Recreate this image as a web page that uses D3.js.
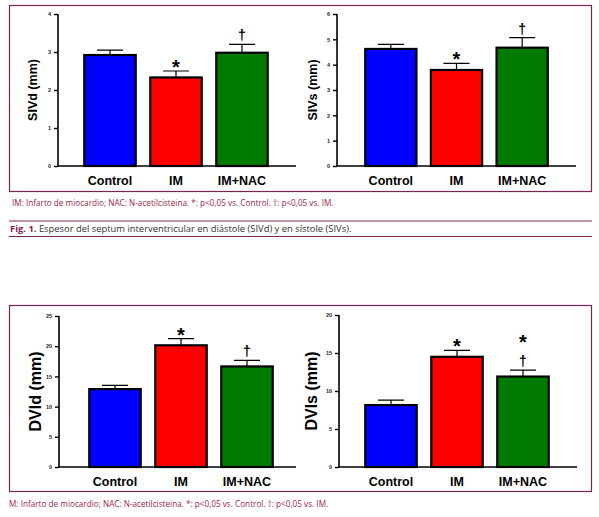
<!DOCTYPE html>
<html lang="en">
<head>
<meta charset="UTF-8">
<title>SIV / DVI</title>
<style>
  body { margin: 0; background: #fff; }
  svg text { font-family: "Liberation Sans", Arial, sans-serif; }
</style>
</head>
<body>
<div class="canvas"></div>
<script src="https://cdnjs.cloudflare.com/ajax/libs/d3/7.8.5/d3.min.js"></script>
<script>
const groups = ["Control", "IM", "IM+NAC"];

const sivdMean = [2.92, 2.33, 2.98];
const sivdErr = [0.13, 0.17, 0.22];
const sivdMarks = [[], ["*"], ["†"]];

const sivsMean = [4.62, 3.79, 4.67];
const sivsErr = [0.18, 0.26, 0.40];
const sivsMarks = [[], ["*"], ["†"]];

const dvidMean = [12.9, 20.15, 16.65];
const dvidErr = [0.6, 1.1, 1.0];
const dvidMarks = [[], ["*"], ["†"]];

const dvisMean = [8.15, 14.5, 11.9];
const dvisErr = [0.65, 0.85, 0.85];
const dvisMarks = [[], ["*"], ["*", "†"]];

const yTicksSivd = [0, 1, 2, 3, 4];
const yTicksSivs = [0, 1, 2, 3, 4, 5, 6];
const yTicksDvid = [0, 5, 10, 15, 20, 25];
const yTicksDvis = [0, 5, 10, 15, 20];

const barColors = ["#0000ff", "#ff0000", "#007a00"];
const frameColor = "#7d2352";
const noteColor = "#9c1f45";

const svg = d3.select(".canvas").append("svg")
    .attr("width", 599)
    .attr("height", 517);

function drawChart(cfg) {
    const g = svg.append("g");
    const y = d3.scaleLinear().domain([0, cfg.max]).range([cfg.y0, cfg.yTop]);
    const x = d3.scaleBand().domain(groups).range(cfg.bars)
        .paddingInner(0.22).paddingOuter(0.11);
    const rows = groups.map((k, i) => ({ k, i, m: cfg.mean[i], e: cfg.err[i], marks: cfg.marks[i] }));

    // y axis
    const ax = g.append("g")
        .attr("transform", `translate(${cfg.axisX},0)`)
        .call(d3.axisLeft(y).tickValues(cfg.ticks).tickSize(4).tickPadding(3).tickFormat(d3.format("d")));
    ax.select(".domain").attr("stroke-width", 1.6).attr("d", `M0,${cfg.y0}V${cfg.yTop}`);
    ax.selectAll(".tick line").attr("stroke-width", 1.4);
    ax.selectAll(".tick text").attr("font-size", 5.5).attr("font-weight", "bold").attr("fill", "#222");

    // x axis baseline
    g.append("line")
        .attr("x1", cfg.axisX).attr("x2", cfg.xEnd)
        .attr("y1", y(0)).attr("y2", y(0))
        .attr("stroke", "#000").attr("stroke-width", 1.6);

    // error bars (above bars only)
    g.selectAll(".err").data(rows).join("path")
        .attr("fill", "none").attr("stroke", "#000").attr("stroke-width", 1.2)
        .attr("d", d => {
            const cx = x(d.k) + x.bandwidth() / 2;
            const top = y(d.m + d.e);
            return `M${cx},${y(d.m)}V${top}M${cx - 13},${top}H${cx + 13}`;
        });

    g.selectAll(".bar").data(rows).join("rect")
        .attr("x", d => x(d.k))
        .attr("y", d => y(d.m))
        .attr("width", x.bandwidth())
        .attr("height", d => y(0) - y(d.m))
        .attr("fill", d => barColors[d.i])
        .attr("stroke", "#000").attr("stroke-width", 2.2);

    // significance marks, stacked upward from the error cap (one text per bar)
    rows.filter(d => d.marks.length).forEach(d => {
        const cx = x(d.k) + x.bandwidth() / 2;
        const base = y(d.m + d.e) - 4;
        const n = d.marks.length;
        const t = g.append("text").attr("text-anchor", "middle")
            .attr("font-weight", "bold").attr("fill", "#000");
        d.marks.forEach((s, j) => {
            t.append("tspan")
                .attr("x", cx)
                .attr("y", base - (n - 1 - j) * 24 + (s === "*" ? 7 : 0))
                .attr("font-size", s === "*" ? 20 : 14)
                .text(s);
        });
    });

    g.selectAll(".xl").data(rows).join("text")
        .attr("x", d => x(d.k) + x.bandwidth() / 2)
        .attr("y", cfg.y0 + 19)
        .attr("text-anchor", "middle")
        .attr("font-size", 12.5).attr("font-weight", "bold")
        .text(d => d.k);

    g.append("text")
        .attr("transform", `translate(${cfg.labelX},${(cfg.y0 + cfg.yTop) / 2}) rotate(-90)`)
        .attr("text-anchor", "middle")
        .attr("font-size", cfg.labelSize).attr("font-weight", "bold")
        .text(cfg.label);
}

// frames
svg.append("rect").attr("x", 9.5).attr("y", 5.5).attr("width", 582).attr("height", 186)
    .attr("fill", "none").attr("stroke", frameColor).attr("stroke-width", 1.2);
svg.append("rect").attr("x", 9.5).attr("y", 305.5).attr("width", 582).attr("height", 186)
    .attr("fill", "none").attr("stroke", frameColor).attr("stroke-width", 1.2);

drawChart({ mean: sivdMean, err: sivdErr, marks: sivdMarks, ticks: yTicksSivd, max: 4,
    axisX: 58, xEnd: 296, y0: 166, yTop: 14, bars: [77, 275], labelX: 37, labelSize: 12.5, label: "SIVd (mm)" });
drawChart({ mean: sivsMean, err: sivsErr, marks: sivsMarks, ticks: yTicksSivs, max: 6,
    axisX: 337, xEnd: 576, y0: 166, yTop: 14, bars: [358, 555], labelX: 317, labelSize: 12.5, label: "SIVs (mm)" });
drawChart({ mean: dvidMean, err: dvidErr, marks: dvidMarks, ticks: yTicksDvid, max: 25,
    axisX: 59, xEnd: 296, y0: 467, yTop: 316, bars: [82, 280], labelX: 41, labelSize: 16, label: "DVId (mm)" });
drawChart({ mean: dvisMean, err: dvisErr, marks: dvisMarks, ticks: yTicksDvis, max: 20,
    axisX: 339, xEnd: 577, y0: 467, yTop: 315, bars: [358, 556], labelX: 317, labelSize: 16, label: "DVIs (mm)" });

// notes and figure caption
svg.append("text").attr("x", 12).attr("y", 206)
    .attr("font-size", 8.2).attr("fill", noteColor)
    .style("font-family", "'Open Sans', sans-serif")
    .text("IM: Infarto de miocardio; NAC: N-acetilcisteina. *: p<0,05 vs. Control. †: p<0,05 vs. IM.");
svg.append("text").attr("x", 9).attr("y", 507)
    .attr("font-size", 8.2).attr("fill", noteColor)
    .style("font-family", "'Open Sans', sans-serif")
    .text("M: Infarto de miocardio; NAC: N-acetilcisteina. *: p<0,05 vs. Control. †: p<0,05 vs. IM.");

svg.append("line").attr("x1", 9).attr("x2", 592).attr("y1", 221).attr("y2", 221)
    .attr("stroke", frameColor).attr("stroke-width", 1);
svg.append("line").attr("x1", 9).attr("x2", 592).attr("y1", 236.5).attr("y2", 236.5)
    .attr("stroke", frameColor).attr("stroke-width", 1);
const cap = svg.append("text").attr("x", 10).attr("y", 232)
    .attr("font-size", 9.4).style("font-family", "'Open Sans', sans-serif");
cap.append("tspan").attr("font-weight", "bold").attr("fill", frameColor).text("Fig. 1.");
cap.append("tspan").attr("fill", "#333").text(" Espesor del septum interventricular en diástole (SIVd) y en sístole (SIVs).");
</script>
</body>
</html>
